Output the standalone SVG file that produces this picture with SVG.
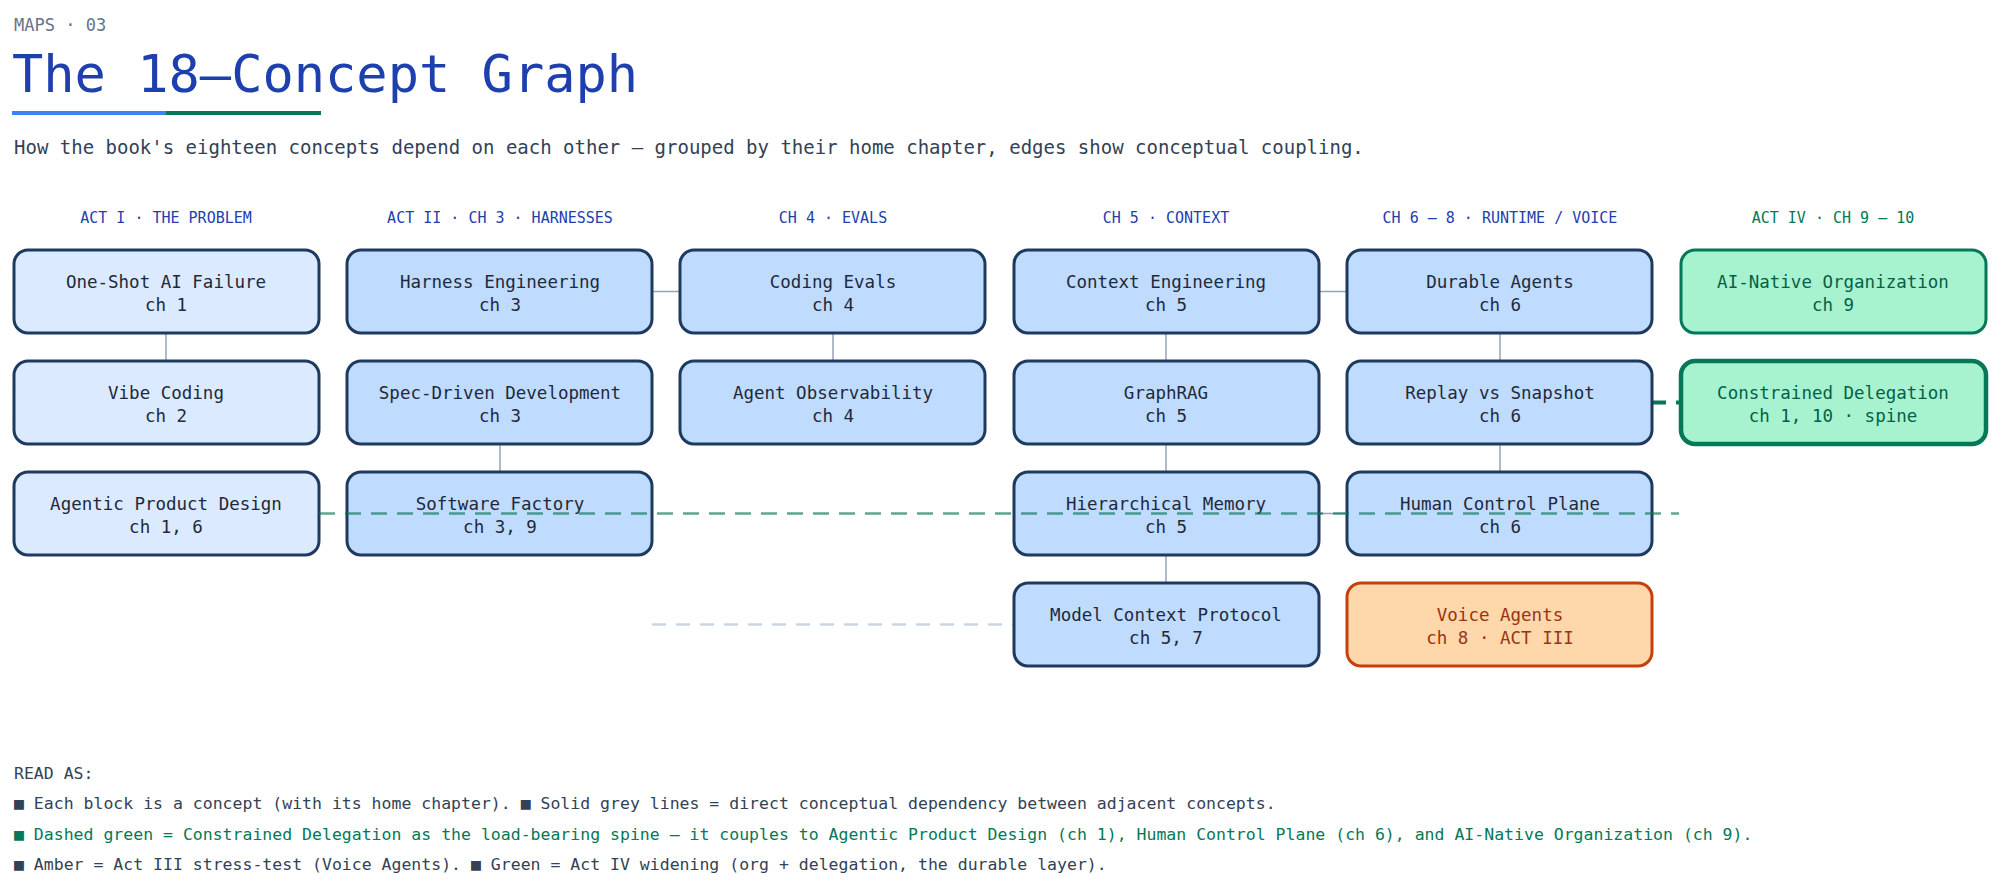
<svg xmlns="http://www.w3.org/2000/svg" width="2000" height="892" viewBox="0 0 2000 892">
<style>
text{font-family:"DejaVu Sans Mono","Liberation Mono",monospace}
.hd{font-size:15px;fill:#1e40af;text-anchor:middle}
.hg{fill:#047857}
.n rect{fill:#bfdbfe;stroke:#1e3a5f;stroke-width:3}
.n text{font-size:17.5px;fill:#1e293b;text-anchor:middle}
.a1 rect{fill:#dbeafe}
.gr rect{fill:#a7f3d0;stroke:#047857}
.gr text{fill:#065f46}
.am rect{fill:#fed7aa;stroke:#c2410c}
.am text{fill:#9a3412}
.c{stroke:#94a3b8;stroke-width:1.5;fill:none}
.lg{font-size:16.5px;fill:#334155}
</style>
<rect width="2000" height="892" fill="#ffffff"/>
<text x="14" y="31" font-size="17" fill="#64748b">MAPS  ·  03</text>
<text x="12" y="92" font-size="52" fill="#1e40af">The 18–Concept Graph</text>
<rect x="12" y="111" width="155" height="4" fill="#3b82f6"/>
<rect x="166" y="111" width="155" height="4" fill="#047857"/>
<text x="14" y="154" font-size="19" fill="#334155">How the book's eighteen concepts depend on each other  —  grouped by their home chapter, edges show conceptual coupling.</text>
<g id="headers">
<text class="hd" x="166" y="223">ACT I  ·  THE PROBLEM</text>
<text class="hd" x="500" y="223">ACT II  ·  CH 3  ·  HARNESSES</text>
<text class="hd" x="833" y="223">CH 4  ·  EVALS</text>
<text class="hd" x="1166" y="223">CH 5  ·  CONTEXT</text>
<text class="hd" x="1500" y="223">CH 6 – 8  ·  RUNTIME / VOICE</text>
<text class="hd hg" x="1833" y="223">ACT IV  ·  CH 9 – 10</text>
</g>
<g id="connectors">
<line class="c" x1="166" y1="333" x2="166" y2="361"/>
<line class="c" x1="500" y1="444" x2="500" y2="472"/>
<line class="c" x1="833" y1="333" x2="833" y2="361"/>
<line class="c" x1="1166" y1="333" x2="1166" y2="361"/>
<line class="c" x1="1166" y1="444" x2="1166" y2="472"/>
<line class="c" x1="1166" y1="555" x2="1166" y2="583"/>
<line class="c" x1="1500" y1="333" x2="1500" y2="361"/>
<line class="c" x1="1500" y1="444" x2="1500" y2="472"/>
<line class="c" x1="652" y1="291.5" x2="680" y2="291.5"/>
<line class="c" x1="1319" y1="291.5" x2="1347" y2="291.5"/>
<line class="c" x1="1319" y1="513.5" x2="1347" y2="513.5"/>
<line x1="652" y1="624.5" x2="1014" y2="624.5" stroke="#cbd5e1" stroke-width="2.5" stroke-dasharray="14 10"/>
<line x1="1652" y1="402.5" x2="1681" y2="402.5" stroke="#047857" stroke-width="4" stroke-dasharray="14 10"/>
</g>
<g id="n1" class="n a1"><rect x="14" y="250" width="305" height="83" rx="14"/><text x="166" y="288">One-Shot AI Failure</text><text x="166" y="311">ch 1</text></g>
<g id="n2" class="n a1"><rect x="14" y="361" width="305" height="83" rx="14"/><text x="166" y="399">Vibe Coding</text><text x="166" y="422">ch 2</text></g>
<g id="n3" class="n a1"><rect x="14" y="472" width="305" height="83" rx="14"/><text x="166" y="510">Agentic Product Design</text><text x="166" y="533">ch 1, 6</text></g>
<g id="n4" class="n"><rect x="347" y="250" width="305" height="83" rx="14"/><text x="500" y="288">Harness Engineering</text><text x="500" y="311">ch 3</text></g>
<g id="n5" class="n"><rect x="347" y="361" width="305" height="83" rx="14"/><text x="500" y="399">Spec-Driven Development</text><text x="500" y="422">ch 3</text></g>
<g id="n6" class="n"><rect x="347" y="472" width="305" height="83" rx="14"/><text x="500" y="510">Software Factory</text><text x="500" y="533">ch 3, 9</text></g>
<g id="n7" class="n"><rect x="680" y="250" width="305" height="83" rx="14"/><text x="833" y="288">Coding Evals</text><text x="833" y="311">ch 4</text></g>
<g id="n8" class="n"><rect x="680" y="361" width="305" height="83" rx="14"/><text x="833" y="399">Agent Observability</text><text x="833" y="422">ch 4</text></g>
<g id="n9" class="n"><rect x="1014" y="250" width="305" height="83" rx="14"/><text x="1166" y="288">Context Engineering</text><text x="1166" y="311">ch 5</text></g>
<g id="n10" class="n"><rect x="1014" y="361" width="305" height="83" rx="14"/><text x="1166" y="399">GraphRAG</text><text x="1166" y="422">ch 5</text></g>
<g id="n11" class="n"><rect x="1014" y="472" width="305" height="83" rx="14"/><text x="1166" y="510">Hierarchical Memory</text><text x="1166" y="533">ch 5</text></g>
<g id="n12" class="n"><rect x="1014" y="583" width="305" height="83" rx="14"/><text x="1166" y="621">Model Context Protocol</text><text x="1166" y="644">ch 5, 7</text></g>
<g id="n13" class="n"><rect x="1347" y="250" width="305" height="83" rx="14"/><text x="1500" y="288">Durable Agents</text><text x="1500" y="311">ch 6</text></g>
<g id="n14" class="n"><rect x="1347" y="361" width="305" height="83" rx="14"/><text x="1500" y="399">Replay vs Snapshot</text><text x="1500" y="422">ch 6</text></g>
<g id="n15" class="n"><rect x="1347" y="472" width="305" height="83" rx="14"/><text x="1500" y="510">Human Control Plane</text><text x="1500" y="533">ch 6</text></g>
<g id="n16" class="n am"><rect x="1347" y="583" width="305" height="83" rx="14"/><text x="1500" y="621">Voice Agents</text><text x="1500" y="644">ch 8  ·  ACT III</text></g>
<g id="n17" class="n gr"><rect x="1681" y="250" width="305" height="83" rx="14"/><text x="1833" y="288">AI-Native Organization</text><text x="1833" y="311">ch 9</text></g>
<g id="n18" class="n gr"><rect x="1681" y="361" width="305" height="83" rx="14" style="stroke-width:4.5"/><text x="1833" y="399">Constrained Delegation</text><text x="1833" y="422">ch 1, 10  ·  spine</text></g>
<g id="spine">
<line x1="319" y1="513.5" x2="1679" y2="513.5" stroke="#047857" stroke-opacity="0.65" stroke-width="2.5" stroke-dasharray="16 10"/>
</g>
<g id="legend">
<text class="lg" x="14" y="779" font-size="15">READ AS:</text>
<text class="lg" x="14" y="809">■ Each block is a concept (with its home chapter).     ■ Solid grey lines = direct conceptual dependency between adjacent concepts.</text>
<text class="lg" x="14" y="840" style="fill:#047857">■ Dashed green = Constrained Delegation as the load-bearing spine — it couples to Agentic Product Design (ch 1), Human Control Plane (ch 6), and AI-Native Organization (ch 9).</text>
<text class="lg" x="14" y="870">■ Amber = Act III stress-test (Voice Agents).     ■ Green = Act IV widening (org + delegation, the durable layer).</text>
</g>
</svg>
